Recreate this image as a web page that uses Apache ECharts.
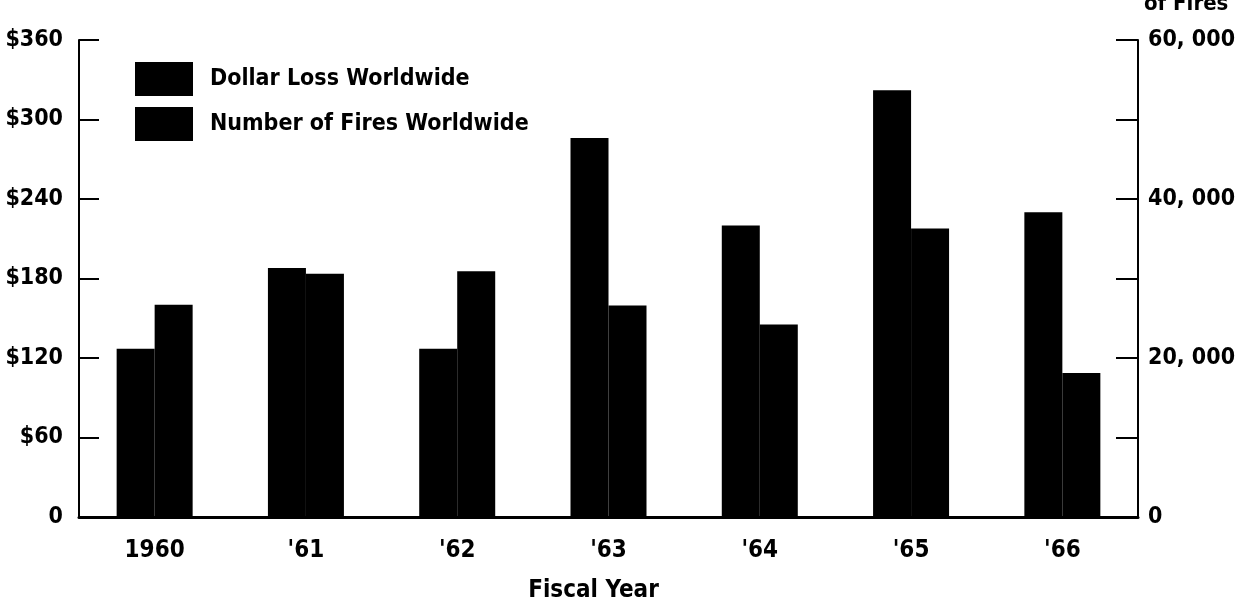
<!DOCTYPE html>
<html>
<head>
<meta charset="utf-8">
<script src="https://cdn.jsdelivr.net/npm/echarts@6/dist/echarts.min.js"></script>
<style>
  html, body { margin: 0; padding: 0; background: #fff; }
  #chart { width: 1241px; height: 600px; }
</style>
</head>
<body>
<div id="chart"></div>
<script>
const years = ['1960', "'61", "'62", "'63", "'64", "'65", "'66"];
const dollarLoss = [127, 188, 127, 286, 220, 322, 230];          // $ millions (left axis)
const numberOfFires = [26700, 30600, 30900, 26600, 24200, 36300, 18100]; // right axis
const leftTickLabels = ['0', '$60', '$120', '$180', '$240', '$300', '$360'];
const rightTickLabels = ['0', '', '20, 000', '', '40, 000', '', '60, 000'];

const FONT = "'Liberation Sans Narrow', 'DejaVu Sans Condensed', 'Open Sans', sans-serif";

const chart = echarts.init(document.getElementById('chart'), null, { renderer: 'canvas' });
chart.setOption({
  backgroundColor: '#ffffff',
  animation: false,
  textStyle: { fontFamily: FONT, color: '#000' },
  legend: {
    orient: 'vertical',
    left: 135,
    top: 62,
    padding: 0,
    itemWidth: 58,
    itemHeight: 34,
    itemGap: 11,
    icon: 'rect',
    textStyle: { fontFamily: FONT, fontSize: 23, fontWeight: 'bold', color: '#000', padding: [0, 0, 0, 12] },
    data: ['Dollar Loss Worldwide', 'Number of Fires Worldwide']
  },
  grid: { left: 79, right: 103, top: 40, bottom: 83, containLabel: false, outerBoundsMode: 'none' },
  xAxis: {
    type: 'category',
    data: years,
    name: 'Fiscal Year',
    nameLocation: 'middle',
    nameGap: 62,
    nameTextStyle: { fontFamily: FONT, fontSize: 24, fontWeight: 'bold', color: '#000', padding: [0, 30, 0, 0] },
    axisLine: { lineStyle: { color: '#000', width: 3 } },
    axisTick: { show: false },
    axisLabel: { fontFamily: FONT, fontSize: 24, fontWeight: 'bold', color: '#000', margin: 22 }
  },
  yAxis: [
    {
      type: 'value',
      min: 0, max: 360, interval: 60,
      position: 'left',
      axisLine: { show: true, lineStyle: { color: '#000', width: 2 } },
      axisTick: { show: true, inside: true, length: 20, lineStyle: { color: '#000', width: 2 } },
      splitLine: { show: false },
      axisLabel: {
        fontFamily: FONT, fontSize: 23, fontWeight: 'bold', color: '#000', margin: 16,
        formatter: function (v) { return leftTickLabels[Math.round(v / 60)]; }
      }
    },
    {
      type: 'value',
      min: 0, max: 60000, interval: 10000,
      position: 'right',
      name: 'Number\nof Fires',
      nameLocation: 'end',
      nameGap: 24,
      nameTextStyle: { fontFamily: FONT, fontSize: 22, fontWeight: 'bold', color: '#000', align: 'left', lineHeight: 24, padding: [0, 0, 0, 6] },
      axisLine: { show: true, lineStyle: { color: '#000', width: 2 } },
      axisTick: { show: true, inside: true, length: 22, lineStyle: { color: '#000', width: 2 } },
      splitLine: { show: false },
      axisLabel: {
        fontFamily: FONT, fontSize: 23, fontWeight: 'bold', color: '#000', margin: 10,
        formatter: function (v) { return rightTickLabels[Math.round(v / 10000)]; }
      }
    }
  ],
  series: [
    {
      name: 'Dollar Loss Worldwide',
      type: 'bar',
      yAxisIndex: 0,
      data: dollarLoss,
      barWidth: 38,
      barGap: '0%',
      itemStyle: { color: '#000' }
    },
    {
      name: 'Number of Fires Worldwide',
      type: 'bar',
      yAxisIndex: 1,
      data: numberOfFires,
      barWidth: 38,
      barGap: '0%',
      itemStyle: { color: '#000' }
    }
  ]
});
</script>
</body>
</html>
